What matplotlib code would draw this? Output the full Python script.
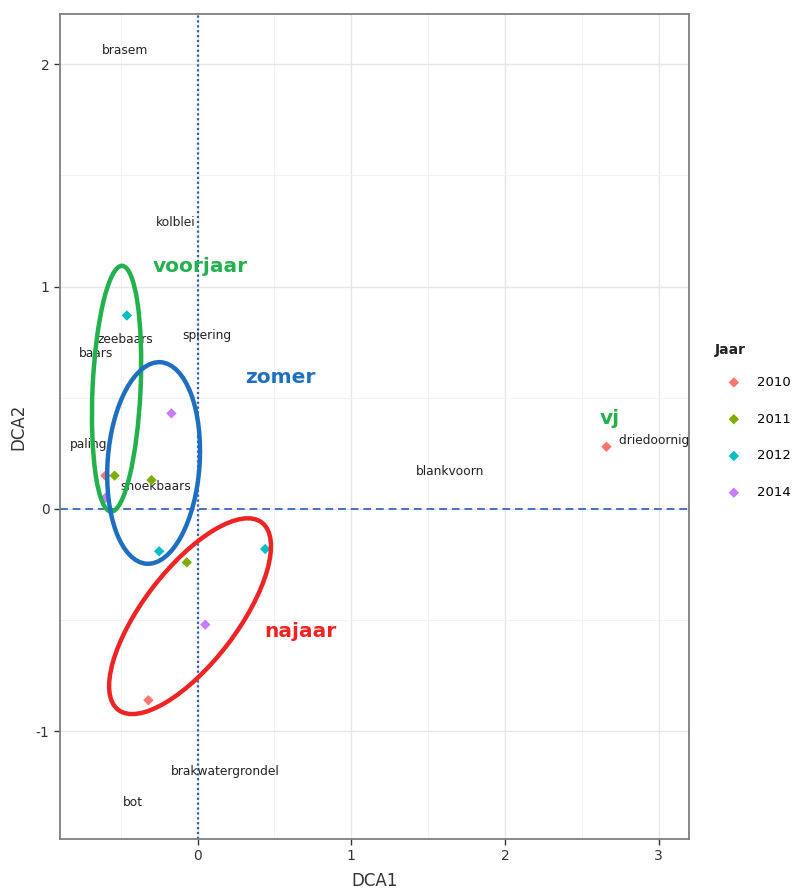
import numpy as np
import matplotlib.pyplot as plt
from matplotlib.patches import Ellipse
from matplotlib.transforms import ScaledTranslation

plt.rcParams['axes.unicode_minus'] = False

# ============= data =============
years = ["2010", "2011", "2012", "2014"]
year_colors = ["#F8766D", "#7CAE00", "#00BFC4", "#C77CFF"]

# site scores per year (DCA1, DCA2)
site_year = ["2010", "2012", "2014", "2011", "2011", "2014", "2012", "2011", "2012", "2014", "2010", "2010"]
site_x = [-0.60, -0.46, -0.17, -0.54, -0.30, -0.60, -0.25, -0.07, 0.44, 0.05, -0.32, 2.66]
site_y = [0.15, 0.87, 0.43, 0.15, 0.13, 0.05, -0.19, -0.24, -0.18, -0.52, -0.86, 0.28]

# species scores
species = ["brasem", "kolblei", "zeebaars", "baars", "spiering", "paling",
           "snoekbaars", "blankvoorn", "brakwatergrondel", "bot"]
species_x = [-0.47, -0.14, -0.47, -0.66, 0.06, -0.71, -0.27, 1.64, 0.18, -0.42]
species_y = [2.06, 1.29, 0.76, 0.70, 0.78, 0.29, 0.10, 0.17, -1.18, -1.32]
# this one runs off the right edge of the panel
edge_species = "driedoornige stekelbaars"
edge_x, edge_y = 2.74, 0.31

# hand-drawn season groups: name, colour, label pos, ellipse centre, width/height (inch), angle
seasons = ["voorjaar", "zomer", "najaar", "vj"]
season_colors = ["#22B14C", "#1F6FC0", "#EE2424", "#22B14C"]
season_lx = [0.02, 0.54, 0.67, 2.68]
season_ly = [1.09, 0.59, -0.55, 0.405]
ell_cx = [-0.527, -0.286, -0.049]
ell_cy = [0.541, 0.207, -0.482]
ell_w = [0.48, 0.92, 2.36]
ell_h = [2.46, 2.02, 0.94]
ell_angle = [-2.6, -4.0, 52.5]

# ============= plotting =============
fig = plt.figure(figsize=(7.98, 8.91), dpi=100)
ax = fig.add_axes([60 / 798, 52 / 891, 629 / 798, 825 / 891])

ax.set_xlim(-0.895, 3.197)
ax.set_ylim(-1.484, 2.226)
ax.set_xticks([0, 1, 2, 3])
ax.set_yticks([-1, 0, 1, 2])
ax.set_xticks([-0.5, 0.5, 1.5, 2.5], minor=True)
ax.set_yticks([-0.5, 0.5, 1.5], minor=True)
ax.grid(True, which="major", color="#e6e6e6", lw=1.0)
ax.grid(True, which="minor", color="#f2f2f2", lw=0.8)
ax.set_axisbelow(True)
ax.tick_params(which="minor", length=0)
ax.tick_params(which="major", length=4, width=1, color="#333333",
               labelsize=10, labelcolor="#333333")
for s in ax.spines.values():
    s.set_color("#7f7f7f")
    s.set_linewidth(1.3)

ax.set_xlabel("DCA1", fontsize=12, color="#333333", labelpad=6)
ax.set_ylabel("DCA2", fontsize=12, color="#333333", labelpad=6)

# reference lines
ax.axvline(0, color="#2f5fb0", ls=(0, (1, 1.2)), lw=1.6, zorder=1)
ax.axhline(0, color="#4472C4", ls=(0, (4, 2.5)), lw=1.4, zorder=1)

# species labels
for name, x, y in zip(species, species_x, species_y):
    ax.text(x, y, name, fontsize=8.8, ha="center", va="center", color="#222222", zorder=3)
ax.text(edge_x, edge_y, edge_species, fontsize=8.8, ha="left", va="center",
        color="#222222", clip_on=True, zorder=3)

# sites
for yr, col in zip(years, year_colors):
    xs = [x for x, s in zip(site_x, site_year) if s == yr]
    ys = [y for y, s in zip(site_y, site_year) if s == yr]
    ax.scatter(xs, ys, marker="D", s=28, color=col, edgecolors="none", label=yr, zorder=4)

# season ellipses
for i in range(3):
    tr = fig.dpi_scale_trans + ScaledTranslation(ell_cx[i], ell_cy[i], ax.transData)
    ax.add_patch(Ellipse((0, 0), ell_w[i], ell_h[i], angle=ell_angle[i], transform=tr,
                         fill=False, edgecolor=season_colors[i], lw=3.2, zorder=5))

for name, col, x, y in zip(seasons, season_colors, season_lx, season_ly):
    ax.text(x, y, name, fontsize=14.5, fontweight="bold", color=col,
            ha="center", va="center", zorder=6)

# legend (title placed separately so the gap to the first key is tighter)
fig.text(715 / 798, 1 - 350 / 891, "Jaar", fontsize=10, fontweight="bold",
         ha="left", va="center", color="#222222")
leg = ax.legend(loc="upper left", bbox_to_anchor=(0.889, 0.584),
                bbox_transform=fig.transFigure, frameon=False, fontsize=9.5,
                labelspacing=1.8, handlelength=2.9,
                handletextpad=0.3, borderaxespad=0)

plt.savefig("out.png", dpi=100)
